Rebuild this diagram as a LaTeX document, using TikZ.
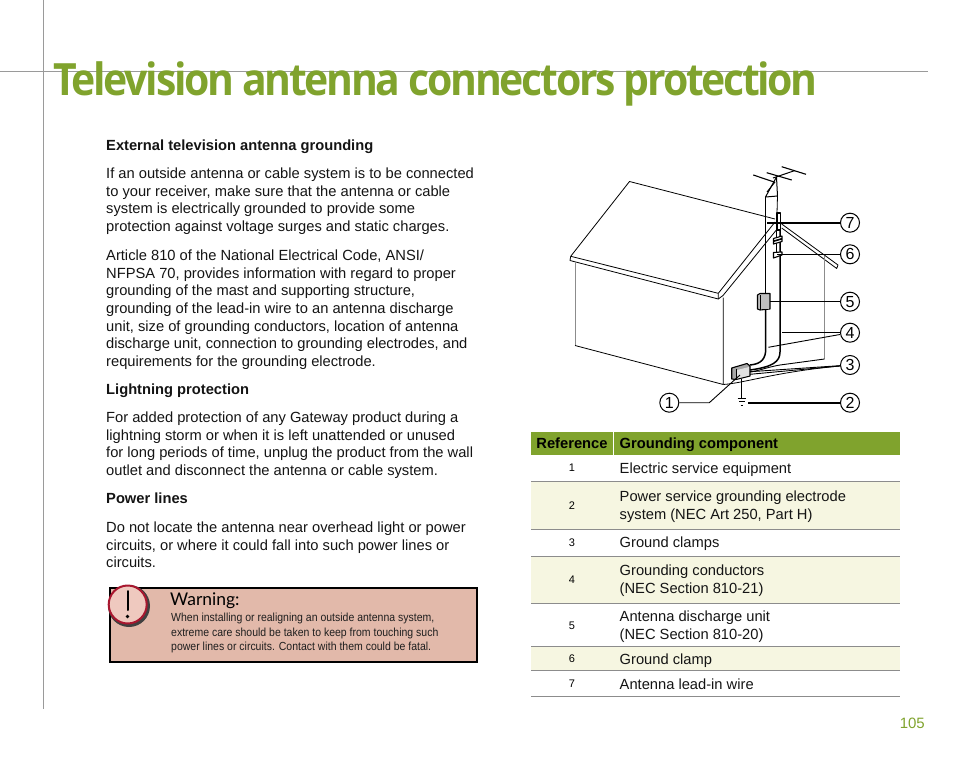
\documentclass[tikz,border=0pt]{standalone}
\usepackage{fontspec}
\setmainfont{Liberation Sans}
\newfontfamily\titlefont[LetterSpace=-5.2,FakeStretch=0.92]{Open Sans}
\newfontfamily\warnhead{Lato}
\newfontfamily\narrowfont[FakeStretch=0.897]{Liberation Sans}
\definecolor{leaf}{HTML}{80A32D}
\definecolor{tint}{HTML}{F6F6E1}
\definecolor{rule}{HTML}{9A9A9A}
\definecolor{salmon}{HTML}{E2B9AA}
\definecolor{crim}{HTML}{A8172F}
\definecolor{pinkface}{HTML}{EFC9BF}
\tikzset{
  body/.style={anchor=north west,inner sep=0pt,align=left,font=\fontsize{14.7}{17.72}\selectfont,text=black!92},
  headb/.style={anchor=north west,inner sep=0pt,align=left,font=\bfseries\fontsize{14.7}{17.72}\selectfont,text=black!92},
  cellb/.style={anchor=west,inner sep=0pt,align=left,font=\fontsize{14.7}{18}\selectfont,text=black!92},
  refnum/.style={anchor=center,inner sep=0pt,font=\fontsize{11}{13}\selectfont},
  callout/.style={circle,draw=black,line width=1pt,fill=white,minimum size=19pt,inner sep=0pt,font=\fontsize{16}{18}\selectfont},
  thin wire/.style={draw=black,line width=0.9pt},
  thick wire/.style={draw=black,line width=2pt},
  sketch/.style={draw=black,line width=0.8pt,line join=round},
  pale/.style={draw=black!45,line width=1pt},
  rowline/.style={draw=black!45,line width=0.6pt}
}
\begin{document}
\begin{tikzpicture}[x=1pt,y=-1pt]
\useasboundingbox (0,0) rectangle (954,782);
% page rules
\draw[rule,line width=0.9pt] (43.5,0) -- (43.5,709);
\draw[rule,line width=0.9pt] (0,71.5) -- (928,71.5);
\node[anchor=base west,inner sep=0pt,text=leaf,font=\titlefont\bfseries\fontsize{44.5}{50}\selectfont] (title) at (53,95) {Television antenna connectors protection};
% left column
\node[headb] (h1) at (106,139.5) {External television antenna grounding};
\node[body] (p1) at (106,167.5) {If an outside antenna or cable system is to be connected\\to your receiver, make sure that the antenna or cable\\system is electrically grounded to provide some\\protection against voltage surges and static charges.};
\node[body] (p2) at (106,249.5) {Article 810 of the National Electrical Code, ANSI/\\NFPSA 70, provides information with regard to proper\\grounding of the mast and supporting structure,\\grounding of the lead-in wire to an antenna discharge\\unit, size of grounding conductors, location of antenna\\discharge unit, connection to grounding electrodes, and\\requirements for the grounding electrode.};
\node[headb] (h2) at (106,383.5) {Lightning protection};
\node[body] (p3) at (106,411.5) {For added protection of any Gateway product during a\\lightning storm or when it is left unattended or unused\\for long periods of time, unplug the product from the wall\\outlet and disconnect the antenna or cable system.};
\node[headb] (h3) at (106,492.5) {Power lines};
\node[body] (p4) at (106,521.5) {Do not locate the antenna near overhead light or power\\circuits, or where it could fall into such power lines or\\circuits.};
% warning
\draw[draw=black,fill=salmon,line width=1.6pt] (110,588) rectangle (477,662);
\fill[black!75] (129,606) circle (21);
\draw[draw=crim,fill=pinkface,line width=2pt] (127.7,604.5) circle (19);
\draw[black,line width=2pt,line cap=round] (127.5,591) -- (127.5,610);
\fill[black] (127.5,616.5) circle (1.8);
\node[anchor=base west,inner sep=0pt,font=\warnhead\fontsize{17.5}{19}\selectfont] (warnh) at (170,605) {Warning:};
\node[anchor=north west,inner sep=0pt,align=left,font=\narrowfont\fontsize{11.7}{14.1}\selectfont,text=black!88] (warnt) at (171,613.3) {When installing or realigning an outside antenna system,\\extreme care should be taken to keep from touching such\\power lines or circuits. Contact with them could be fatal.};
% table
\fill[tint] (531,481) rectangle (900,529);
\fill[tint] (531,556) rectangle (900,603);
\fill[tint] (531,646) rectangle (900,670);
\fill[leaf] (531,432) rectangle (900,455);
\draw[white,line width=0.8pt] (613.5,432) -- (613.5,455);
\foreach \yy in {481,529,556,603,646,670,696} \draw[rowline] (531,\yy) -- (900,\yy);
\node[anchor=base,inner sep=0pt,font=\bfseries\fontsize{14.7}{17}\selectfont] (thr) at (572,448.5) {Reference};
\node[anchor=base west,inner sep=0pt,font=\bfseries\fontsize{14.7}{17}\selectfont] (thg) at (619.5,448.5) {Grounding component};
\node[refnum] (r1) at (572,468) {1};
\node[refnum] (r2) at (572,505.5) {2};
\node[refnum] (r3) at (572,542.5) {3};
\node[refnum] (r4) at (572,579.5) {4};
\node[refnum] (r5) at (572,625.5) {5};
\node[refnum] (r6) at (572,658.5) {6};
\node[refnum] (r7) at (572,683.5) {7};
\node[cellb,anchor=base west] (g1) at (619.5,473) {Electric service equipment};
\node[cellb] (g2) at (619.5,507) {Power service grounding electrode\\system (NEC Art 250, Part H)};
\node[cellb,anchor=base west] (g3) at (619.5,547) {Ground clamps};
\node[cellb] (g4) at (619.5,581) {Grounding conductors\\(NEC Section 810-21)};
\node[cellb] (g5) at (619.5,627) {Antenna discharge unit\\(NEC Section 810-20)};
\node[cellb,anchor=base west] (g6) at (619.5,664) {Ground clamp};
\node[cellb,anchor=base west] (g7) at (619.5,689) {Antenna lead-in wire};
\node[anchor=base east,inner sep=0pt,text=leaf,font=\fontsize{15}{17}\selectfont] (pg) at (925,728) {105};
% house
\draw[sketch] (775,219) -- (629.5,181.5) -- (570.7,256.3) -- (718.3,293.3) -- (775,222);
\draw[sketch] (570.7,256.3) -- (570,260.5) -- (718.3,299) -- (718.3,293.3);
\draw[sketch] (718.3,299) -- (723,295.5) -- (778,228);
\draw[sketch] (781.7,224) -- (838,265) -- (836.7,268.5) -- (781.7,228);
\draw[pale] (575,262) -- (575,345.5);
\draw[pale] (824,256) -- (824,359);
\draw[sketch] (575,345.5) -- (723.3,384.5) -- (723.3,297.5);
\draw[sketch,line width=0.9pt] (824.5,359) -- (780,365) .. controls (768,367) and (758,371) .. (750,372);
\draw[sketch] (723.3,384.5) .. controls (745,383) and (775,372) .. (840,366);
% mast and antenna
\draw[sketch,line width=1pt] (765.5,197) -- (776.5,177) -- (777.5,196) -- (765.5,197);
\draw[sketch,line width=1pt] (767,192) -- (775,182);
\draw[sketch,line width=1pt] (795,170.5) -- (773,178);
\draw[thin wire,line width=1.1pt] (781.7,166.7) -- (806,174.3);
\draw[thin wire,line width=1.1pt] (766.7,172.7) -- (791.7,180);
\draw[thin wire,line width=1.1pt] (753.3,175) -- (775,182.3);
\draw[sketch] (777.5,196) -- (777,213);
\draw[thick wire,line width=1.5pt] (765.7,197) -- (765.7,293);
\draw[thick wire,line width=1.5pt] (765.7,310) -- (765.7,349) .. controls (765.7,358) and (762,364) .. (750,365);
\draw[thick wire,line width=1.5pt] (780,228) -- (780,352) .. controls (780,362) and (772,367) .. (750,370);
\draw[sketch,fill=white,line width=1.1pt] (777,213) rectangle (780.5,230);
\draw[line width=1.1pt] (776.5,230) -- (776.5,257);
\draw[sketch,fill=white,line width=1.1pt] (773.5,238.5) -- (782,236) -- (782,238.5) -- (773.5,241) -- cycle;
\draw[sketch,fill=white,line width=1.1pt] (773.5,241.5) -- (782,239) -- (782,241.5) -- (773.5,244) -- cycle;
\draw[sketch,fill=white,line width=1.1pt] (773.5,252.5) -- (782,252) -- (782,255) -- (773.5,258) -- cycle;
% discharge unit
\draw[sketch,fill=black!25,line width=1.1pt] (757.5,295) -- (760,293.5) -- (770,293.5) -- (770,309) -- (760,310) -- (757.5,309) -- cycle;
\fill[white!75!black] (760.5,295.5) rectangle (769,308.5);
\draw[sketch] (760,295) -- (760,310);
% service box
\draw[sketch,fill=black!35,line width=1.1pt] (731.7,368) -- (747,363.5) -- (750,366) -- (750,376) -- (736,379.5) -- (731.7,379) -- cycle;
\fill[black!12] (737,370) -- (749,367) -- (749,375.5) -- (737,378.5) -- cycle;
\draw[sketch] (736,368.5) -- (736,379.5);
% ground symbol
\coordinate (gtop) at (741.7,379);
\coordinate (gbar) at (741.7,398.3);
\draw[thin wire] (gtop) -- (gbar);
\draw[thin wire] (737.7,398.3) -- (745.7,398.3);
\draw[thin wire] (739,401.7) -- (744.5,401.7);
\draw[thin wire] (740.5,405) -- (743,405);
% callouts
\node[callout] (c7) at (850,222.7) {7};
\node[callout] (c6) at (850,254.3) {6};
\node[callout] (c5) at (850,301.7) {5};
\node[callout] (c4) at (850,332.7) {4};
\node[callout] (c3) at (850,365) {3};
\node[callout] (c2) at (850,402.7) {2};
\node[callout] (c1) at (669.3,402.7) {1};
\coordinate (t7) at (766.7,222.7);
\coordinate (t6) at (776.7,254.3);
\coordinate (t5) at (770,301.7);
\coordinate (t4a) at (781.7,332.7);
\coordinate (t4b) at (768.3,347.3);
\coordinate (t3a) at (750,371.7);
\coordinate (t3b) at (750,374.3);
\coordinate (t2) at (748.3,402.7);
\coordinate (t1a) at (709.3,402.7);
\coordinate (t1b) at (740,375);
\draw[thick wire] (c7) -- (t7);
\draw[thin wire] (c6) -- (t6);
\draw[thin wire] (c5) -- (t5);
\draw[thin wire] (c4) -- (t4a);
\draw[thin wire] (c4) -- (t4b);
\draw[thin wire] (c3) -- (t3a);
\draw[thin wire] (c3) -- (t3b);
\draw[thick wire] (c2) -- (t2);
\draw[thin wire] (c1) -- (t1a) -- (t1b);
\end{tikzpicture}
\end{document}
